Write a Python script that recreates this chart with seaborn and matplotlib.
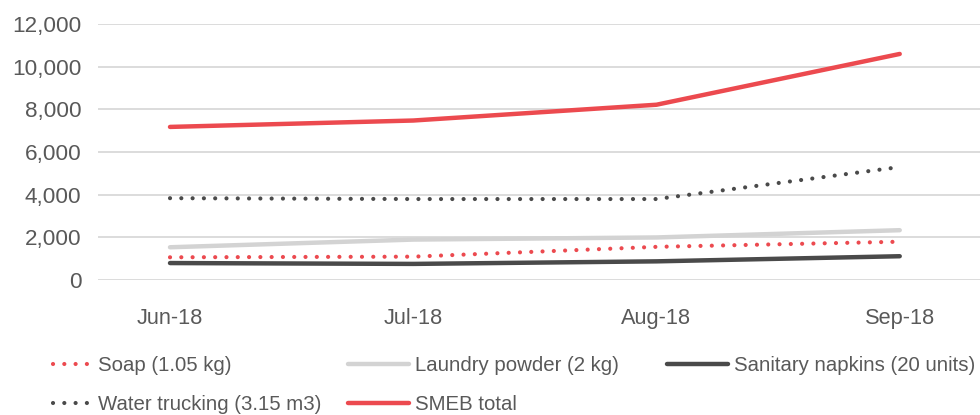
import pandas as pd
import matplotlib.pyplot as plt
import seaborn as sns
from matplotlib.ticker import FuncFormatter, FixedLocator

months = ["Jun-18", "Jul-18", "Aug-18", "Sep-18"]
soap = [1070, 1100, 1560, 1800]
laundry = [1540, 1900, 2000, 2340]
napkins = [800, 760, 880, 1120]
water = [3840, 3800, 3800, 5300]
smeb = [7180, 7480, 8220, 10600]

names = ["Soap (1.05 kg)", "Laundry powder (2 kg)", "Sanitary napkins (20 units)",
         "Water trucking (3.15 m3)", "SMEB total"]
series = [soap, laundry, napkins, water, smeb]
colors = ["#EC4A4F", "#D3D3D3", "#4A4A4A", "#4A4A4A", "#EC4A4F"]
dotted = [True, False, False, True, False]

sns.set_style("white")
plt.rcParams["font.family"] = ["Liberation Sans", "DejaVu Sans"]
txt = "#595959"

fig = plt.figure(figsize=(9.8, 4.15), dpi=100)
ax = fig.add_axes([0.1, 0.325, 0.9, 0.617])

x = list(range(len(months)))
for name, vals, c, dot in zip(names, series, colors, dotted):
    df = pd.DataFrame({"x": x, "y": vals})
    if dot:
        sns.lineplot(data=df, x="x", y="y", ax=ax, color=c, lw=3.0, label=name,
                     linestyle=(0, (0.01, 2.7)), dash_capstyle="round")
    else:
        sns.lineplot(data=df, x="x", y="y", ax=ax, color=c, lw=3.2, label=name,
                     solid_capstyle="round")

ax.set_ylim(0, 12000)
ax.set_xlim(-0.296, 3.33)
ax.set_yticks(range(0, 12001, 2000))
ax.yaxis.set_major_formatter(FuncFormatter(lambda v, p: f"{int(v):,}"))
ax.grid(axis="y", color="#D9D9D9", lw=1.3)
ax.set_axisbelow(True)
for s in ax.spines.values():
    s.set_visible(False)

ax.set_xticks(x)
ax.set_xticklabels(months)
ax.xaxis.set_minor_locator(FixedLocator([0.5, 1.5, 2.5]))
ax.tick_params(axis="x", which="major", length=0, pad=20, labelsize=15.7, labelcolor=txt)
ax.tick_params(axis="x", which="minor", length=6, width=1, color="#D0D0D0", direction="out")
ax.tick_params(axis="y", length=0, pad=12, labelsize=16.2, labelcolor=txt)
ax.set_xlabel("")
ax.set_ylabel("")

# legend: three fixed-width columns like the original
h, l = ax.get_legend_handles_labels()
ax.get_legend().remove()
cols = [([0, 3], 53 / 980, 1.9), ([1, 4], 348 / 980, 3.0), ([2], 667 / 980, 3.0)]
for idx, x0, hl in cols:
    fig.legend([h[i] for i in idx], [l[i] for i in idx], loc="upper left",
               bbox_to_anchor=(x0, 0.143), frameon=False, fontsize=14.7,
               labelcolor=txt, handlelength=hl, handletextpad=0.3,
               labelspacing=1.0, borderpad=0, borderaxespad=0)

plt.savefig("out.png", dpi=100)
